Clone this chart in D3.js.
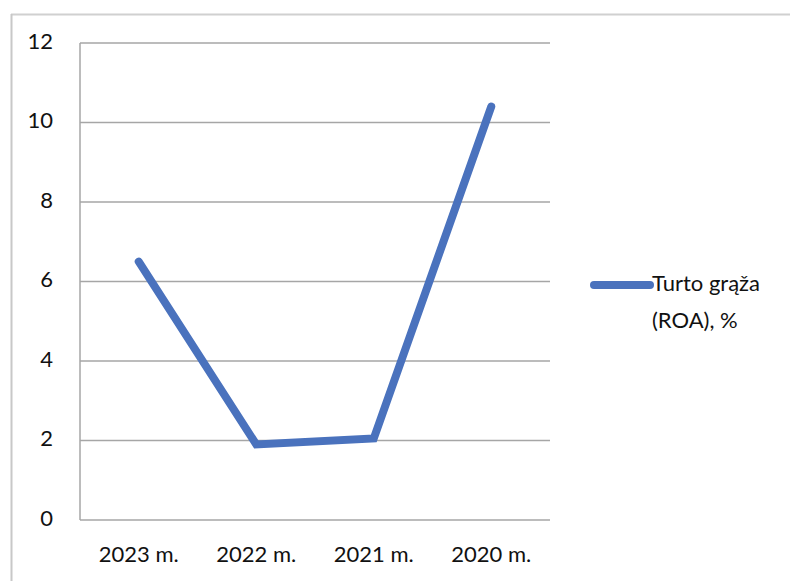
<!DOCTYPE html>
<html>
<head>
<meta charset="utf-8">
<script src="https://cdn.jsdelivr.net/npm/d3@7"></script>
<style>
  body { margin: 0; background: #fff; }
  svg { display: block; font-family: Lato, "Open Sans", sans-serif; }
</style>
</head>
<body>
<div id="chart"></div>
<script>
// data
const categories = ["2023 m.", "2022 m.", "2021 m.", "2020 m."];
const roaValues = [6.5, 1.9, 2.05, 10.4];
const yTicks = [0, 2, 4, 6, 8, 10, 12];
const seriesName = ["Turto grąža", "(ROA), %"];

const W = 790, H = 581;
const margin = { top: 43, right: 240, bottom: 61, left: 80 };
const width = W - margin.left - margin.right;
const height = H - margin.top - margin.bottom;

const svg = d3.select("#chart").append("svg")
    .attr("width", W)
    .attr("height", H);

// outer frame (top + left edge only visible)
svg.append("line")
    .attr("x1", 11).attr("x2", W).attr("y1", 14.5).attr("y2", 14.5)
    .attr("stroke", "#d0d0d0").attr("stroke-width", 2);
svg.append("line")
    .attr("x1", 11.5).attr("x2", 11.5).attr("y1", 14).attr("y2", H)
    .attr("stroke", "#c8c8c8").attr("stroke-width", 2);

const g = svg.append("g")
    .attr("transform", `translate(${margin.left},${margin.top})`);

const x = d3.scaleBand().domain(categories).range([0, width]);
const y = d3.scaleLinear().domain([0, 12]).range([height, 0]);

// gridlines
g.selectAll(".grid")
    .data(yTicks)
    .join("line")
    .attr("class", "grid")
    .attr("x1", 0).attr("x2", width)
    .attr("y1", d => y(d)).attr("y2", d => y(d))
    .attr("stroke", "#a6a6a6")
    .attr("stroke-width", 1.5);

// y axis line
g.append("line")
    .attr("x1", 0).attr("x2", 0)
    .attr("y1", 0).attr("y2", height)
    .attr("stroke", "#a6a6a6")
    .attr("stroke-width", 1.5);

// y labels
g.selectAll(".ylab")
    .data(yTicks)
    .join("text")
    .attr("class", "ylab")
    .attr("x", -27)
    .attr("y", d => y(d))
    .attr("text-anchor", "end")
    .attr("dominant-baseline", "middle")
    .attr("font-size", "22px")
    .attr("fill", "#111")
    .text(d => d);

// x labels
g.selectAll(".xlab")
    .data(categories)
    .join("text")
    .attr("class", "xlab")
    .attr("x", d => x(d) + x.bandwidth() / 2)
    .attr("y", height + 36)
    .attr("text-anchor", "middle")
    .attr("dominant-baseline", "middle")
    .attr("font-size", "22px")
    .attr("fill", "#111")
    .text(d => d);

// line
const line = d3.line()
    .x((d, i) => x(categories[i]) + x.bandwidth() / 2)
    .y(d => y(d));

g.append("path")
    .datum(roaValues)
    .attr("d", line)
    .attr("fill", "none")
    .attr("stroke", "#4a72bd")
    .attr("stroke-width", 8)
    .attr("stroke-linejoin", "miter")
    .attr("stroke-linecap", "round");

// legend
const lg = svg.append("g").attr("transform", "translate(594,285)");
lg.append("line")
    .attr("x1", 0).attr("x2", 56)
    .attr("y1", 0).attr("y2", 0)
    .attr("stroke", "#4a72bd")
    .attr("stroke-width", 8)
    .attr("stroke-linecap", "round");
lg.selectAll("text")
    .data(seriesName)
    .join("text")
    .attr("x", 58)
    .attr("y", (d, i) => i * 37)
    .attr("dominant-baseline", "middle")
    .attr("font-size", "22px")
    .attr("fill", "#111")
    .text(d => d);
</script>
</body>
</html>
